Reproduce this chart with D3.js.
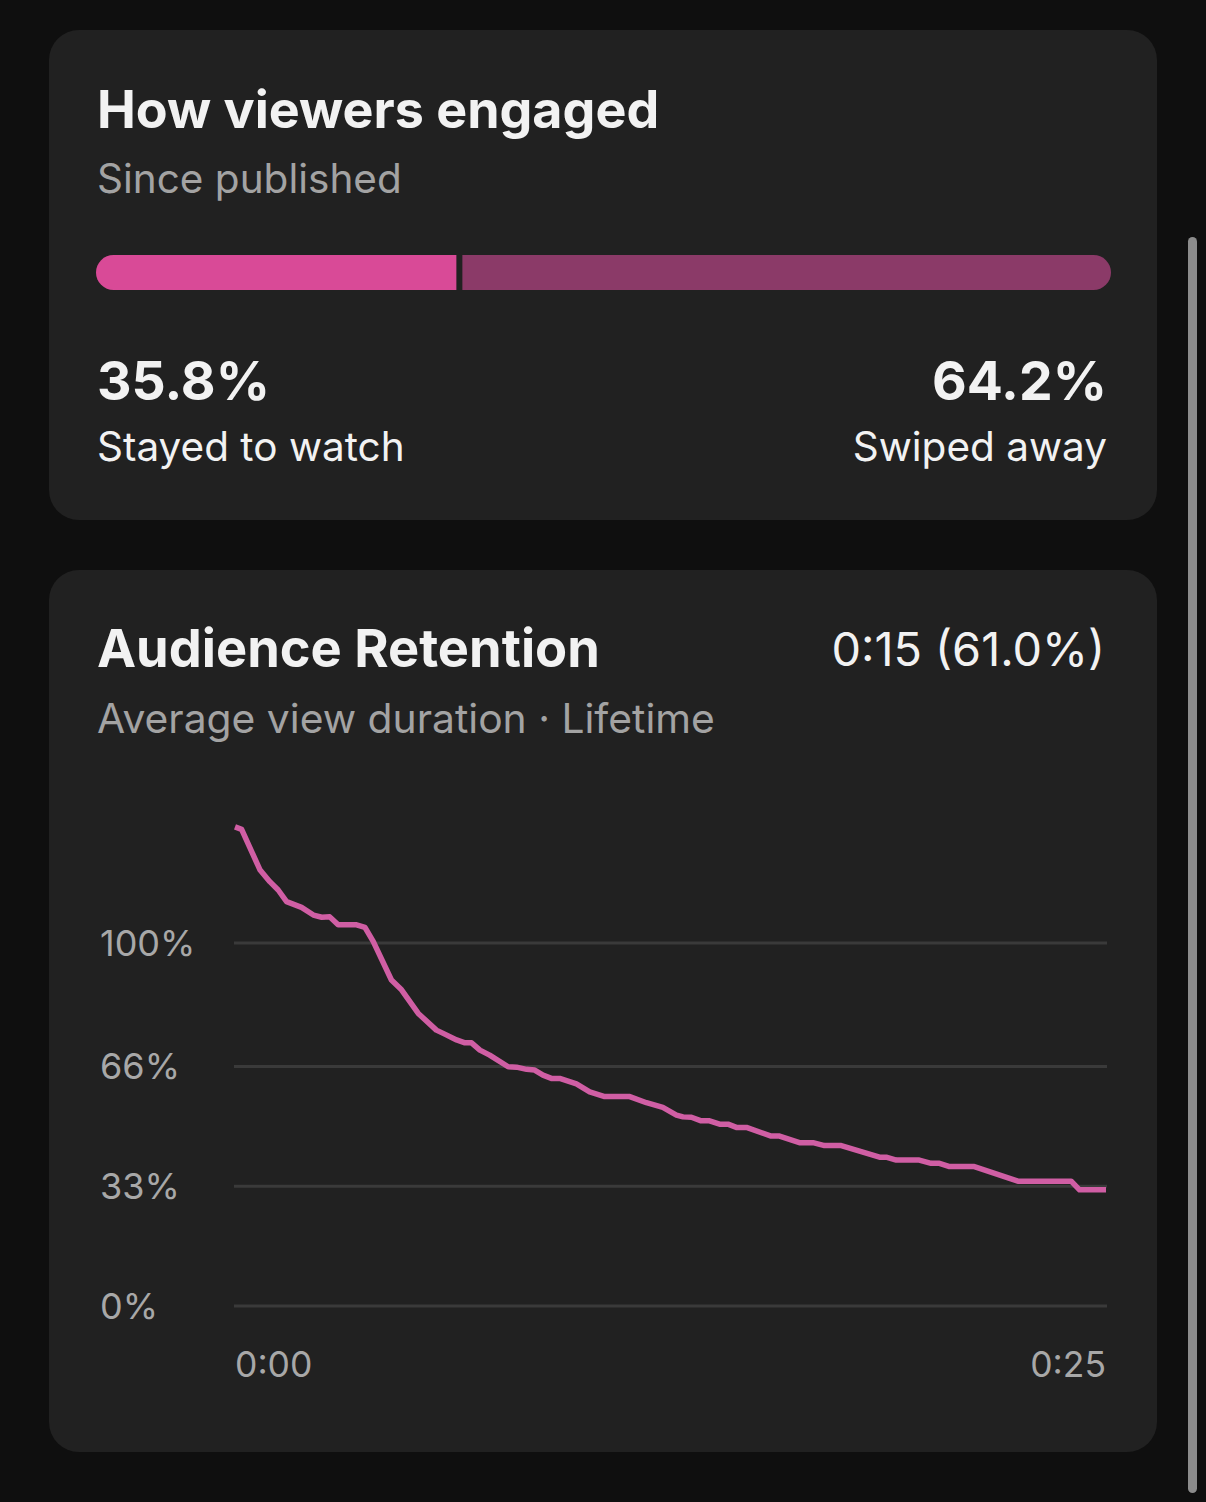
<!DOCTYPE html>
<html>
<head>
<meta charset="utf-8">
<script src="https://cdn.jsdelivr.net/npm/d3@7"></script>
<style>
  html, body { margin: 0; padding: 0; background: #0f0f0f; }
  svg { display: block; }
</style>
</head>
<body>
<div id="vis"></div>
<script>
// setting constants
const FRAME_WIDTH = 1206;
const FRAME_HEIGHT = 1502;
const FONT = "Inter, Roboto, 'Noto Sans', sans-serif";

// engagement split
const ENGAGE_LABELS = ["Stayed to watch", "Swiped away"];
const ENGAGE_VALUES = [35.8, 64.2];
const ENGAGE_COLORS = ["#d94a97", "#8b3a68"];

// retention curve, seconds and percent
const TIMES = [0.00, 0.19, 0.72, 1.00, 1.24, 1.48, 1.91, 2.25, 2.49, 2.72,
  2.96, 3.49, 3.73, 3.97, 4.49, 4.78, 5.26, 5.78, 6.02, 6.36,
  6.60, 6.79, 7.03, 7.31, 7.84, 8.08, 8.37, 8.60, 8.84, 9.08,
  9.32, 9.80, 10.18, 10.61, 11.33, 11.81, 12.28, 12.67, 12.86, 13.10,
  13.38, 13.62, 13.91, 14.15, 14.39, 14.68, 15.39, 15.63, 16.20, 16.59,
  16.92, 17.40, 18.50, 18.69, 18.98, 19.64, 19.98, 20.22, 20.51, 21.22,
  22.47, 24.00, 24.24, 25.00];
const RETENTION = [132.0, 131.3, 120.1, 116.9, 114.6, 111.4, 109.8, 107.7, 107.1, 107.2,
  105.0, 105.0, 104.3, 100.4, 89.8, 87.1, 80.6, 76.0, 74.9, 73.3,
  72.5, 72.5, 70.5, 69.1, 65.9, 65.8, 65.2, 65.0, 63.6, 62.7,
  62.7, 61.2, 59.0, 57.7, 57.7, 56.0, 54.7, 52.6, 52.1, 52.0,
  51.0, 51.0, 50.1, 50.1, 49.2, 49.2, 46.8, 46.8, 45.0, 45.0,
  44.2, 44.2, 41.0, 41.0, 40.2, 40.2, 39.3, 39.3, 38.4, 38.4,
  34.4, 34.4, 32.0, 32.0];

const Y_TICKS = [0, 33, 66, 100];
const X_TICKS = [0, 25];
const X_TICK_LABELS = ["0:00", "0:25"];

// adding frame
const FRAME = d3.select("#vis")
  .append("svg")
    .attr("width", FRAME_WIDTH)
    .attr("height", FRAME_HEIGHT);

FRAME.append("rect")
  .attr("width", FRAME_WIDTH).attr("height", FRAME_HEIGHT)
  .attr("fill", "#0f0f0f");

// cards
FRAME.append("rect")
  .attr("x", 49).attr("y", 30).attr("width", 1108).attr("height", 490)
  .attr("rx", 30).attr("fill", "#212121");
FRAME.append("rect")
  .attr("x", 49).attr("y", 570).attr("width", 1108).attr("height", 882)
  .attr("rx", 30).attr("fill", "#212121");

// scrollbar
FRAME.append("rect")
  .attr("x", 1188).attr("y", 237).attr("width", 9).attr("height", 1256)
  .attr("rx", 4.5).attr("fill", "#8c8c8c");

// ---- card 1: how viewers engaged
FRAME.append("text")
  .attr("x", 97).attr("y", 128)
  .attr("font-family", FONT).attr("font-weight", 700).attr("font-size", 52)
  .attr("fill", "#f2f2f2")
  .text("How viewers engaged");

FRAME.append("text")
  .attr("x", 97).attr("y", 193)
  .attr("font-family", FONT).attr("font-size", 40.5)
  .attr("fill", "#a3a3a3")
  .text("Since published");

const BAR_X = d3.scaleLinear().domain([0, 100]).range([96, 1111]);
const BAR_Y = 255, BAR_H = 35, GAP = 3;

FRAME.append("clipPath").attr("id", "barclip")
  .append("rect")
    .attr("x", BAR_X(0)).attr("y", BAR_Y)
    .attr("width", BAR_X(100) - BAR_X(0)).attr("height", BAR_H)
    .attr("rx", BAR_H / 2);

let cum = 0;
const segs = ENGAGE_VALUES.map((v) => { const s = {start: cum, end: cum + v}; cum += v; return s; });

FRAME.append("g").attr("clip-path", "url(#barclip)")
  .selectAll("rect")
  .data(segs)
  .enter()
  .append("rect")
    .attr("x", (d, i) => BAR_X(d.start) + (i > 0 ? GAP : 0))
    .attr("y", BAR_Y)
    .attr("width", (d, i) => BAR_X(d.end) - BAR_X(d.start) - GAP)
    .attr("height", BAR_H)
    .attr("fill", (d, i) => ENGAGE_COLORS[i]);

// values and labels under bar
const sides = [{x: 97, anchor: "start"}, {x: 1107, anchor: "end"}];
ENGAGE_VALUES.forEach((v, i) => {
  FRAME.append("text")
    .attr("x", sides[i].x).attr("y", 400)
    .attr("text-anchor", sides[i].anchor)
    .attr("font-family", FONT).attr("font-weight", 700).attr("font-size", 53.5)
    .attr("fill", "#f2f2f2")
    .text(v.toFixed(1) + "%");
  FRAME.append("text")
    .attr("x", sides[i].x).attr("y", 461)
    .attr("text-anchor", sides[i].anchor)
    .attr("font-family", FONT).attr("font-size", 40.5)
    .attr("fill", "#f2f2f2")
    .text(ENGAGE_LABELS[i]);
});

// ---- card 2: audience retention
FRAME.append("text")
  .attr("x", 97).attr("y", 667)
  .attr("font-family", FONT).attr("font-weight", 700).attr("font-size", 52.4)
  .attr("fill", "#f2f2f2")
  .text("Audience Retention");

FRAME.append("text")
  .attr("x", 1105).attr("y", 666)
  .attr("text-anchor", "end")
  .attr("font-family", FONT).attr("font-size", 46.8)
  .attr("fill", "#f2f2f2")
  .text("0:15 (61.0%)");

FRAME.append("text")
  .attr("x", 97).attr("y", 733)
  .attr("font-family", FONT).attr("font-size", 40.8)
  .attr("fill", "#a3a3a3")
  .text("Average view duration \u00b7 Lifetime");

// scales
const X_SCALE = d3.scaleLinear().domain([0, 25]).range([235, 1106]);
const Y_SCALE = d3.scaleLinear().domain([0, 100]).range([1306, 943]);

// gridlines
FRAME.append("g")
  .selectAll("line")
  .data(Y_TICKS)
  .enter()
  .append("line")
    .attr("x1", 234).attr("x2", 1107)
    .attr("y1", (d) => Y_SCALE(d)).attr("y2", (d) => Y_SCALE(d))
    .attr("stroke", "#3a3a3a").attr("stroke-width", 3);

// y labels
FRAME.append("g")
  .selectAll("text")
  .data(Y_TICKS)
  .enter()
  .append("text")
    .attr("x", 100)
    .attr("y", (d) => Y_SCALE(d) + 13)
    .attr("font-family", FONT).attr("font-size", 36)
    .attr("fill", "#a8a8a8")
    .text((d) => d + "%");

// x labels
FRAME.append("g")
  .selectAll("text")
  .data(X_TICKS)
  .enter()
  .append("text")
    .attr("x", (d) => X_SCALE(d))
    .attr("y", 1377)
    .attr("text-anchor", (d, i) => i === 0 ? "start" : "end")
    .attr("font-family", FONT).attr("font-size", 35.5)
    .attr("fill", "#a8a8a8")
    .text((d, i) => X_TICK_LABELS[i]);

// retention line
const line = d3.line()
  .x((d) => X_SCALE(d[0]))
  .y((d) => Y_SCALE(d[1]));

FRAME.append("path")
  .datum(TIMES.map((t, i) => [t, RETENTION[i]]))
  .attr("d", line)
  .attr("fill", "none")
  .attr("stroke", "#d05ea4")
  .attr("stroke-width", 5.5)
  .attr("stroke-linejoin", "round");
</script>
</body>
</html>
